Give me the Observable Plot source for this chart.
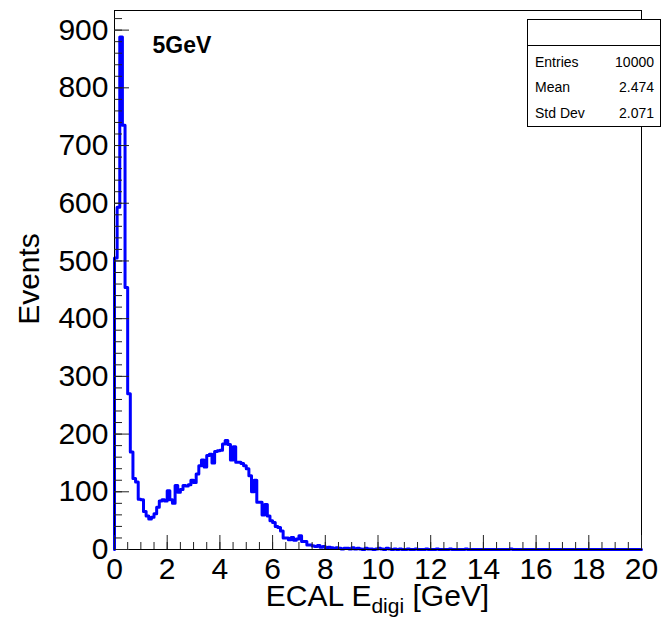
<!DOCTYPE html>
<html>
<head>
<meta charset="utf-8">
<script src="https://cdn.jsdelivr.net/npm/d3@7"></script>
<script src="https://cdn.jsdelivr.net/npm/@observablehq/plot@0.6"></script>
<style>
  body { margin: 0; background: #fff; }
  #wrap { position: relative; width: 662px; height: 618px; overflow: hidden;
          font-family: "Liberation Sans", Arial, Helvetica, sans-serif; }
  #stats { position: absolute; left: 527px; top: 19px; width: 134px; height: 108px;
           border: 1px solid #000; background: #fff; box-sizing: border-box; font-size: 14px; color: #000; }
  #stats .head { height: 26px; border-bottom: 1px solid #000; box-sizing: border-box; }
  #stats .rows { padding-top: 3px; }
  #stats .row { height: 25.5px; display: flex; align-items: center; justify-content: space-between;
                padding: 0 6px 0 7px; }
</style>
</head>
<body>
<div id="wrap"></div>
<script>
// ---- data ----
const xMin = 0;
const xMax = 20;
const binWidth = 0.1;
const counts = [
  505, 593, 888, 735, 454, 270, 169, 123,
  117, 87, 86, 66, 58, 53, 56, 62, 73, 84, 86,
  84, 102, 86, 80, 111, 99, 104, 111, 110, 112, 120, 116,
  131, 145, 155, 143, 163, 165, 150, 170, 171, 172, 183, 189, 182, 155, 178,
  151, 151, 149, 145, 140, 128, 100, 120, 82, 82, 60, 78, 58, 50, 47,
  40, 38, 32, 20, 20, 17, 21, 16, 18, 24, 14, 14, 8, 8, 6, 5, 7, 4, 5, 3,
  4, 3, 2, 3, 2, 1, 2, 2, 1, 3, 1, 2, 1, 0, 2, 1, 1, 0, 1, 2,
  1, 0, 2, 1, 0, 1, 0, 1, 0, 0, 1, 0, 0, 1, 0, 0, 0, 1, 0, 0,
  0, 1, 0, 0, 0, 0, 1, 0, 0, 0, 0, 0, 1, 0, 0, 0, 0, 0, 0, 0,
  0, 0, 0, 0, 0, 0, 0, 0, 0, 1, 0, 0, 0, 0, 0, 0, 0, 0, 0, 0,
  0, 0, 0, 0, 0, 0, 0, 0, 0, 0, 0, 0, 0, 0, 0, 0, 0, 0, 0, 0,
  0, 0, 0, 0, 0, 0, 0, 0, 0, 0, 0, 0, 0, 0, 0, 0, 0, 0, 0, 0
];
const yMax = 934;
const yMajorTicks = [0, 100, 200, 300, 400, 500, 600, 700, 800, 900];
const yMinorTicks = d3.range(0, 940, 20);
const xMajorTicks = [0, 2, 4, 6, 8, 10, 12, 14, 16, 18, 20];
const xMinorTicks = d3.range(0, 20.01, 0.5);
const histTitle = "5GeV";
const yTitle = "Events";
const xTitleMain = "ECAL E";
const xTitleSub = "digi";
const xTitleEnd = " [GeV]";
const statLabels = ["Entries", "Mean", "Std Dev"];
const statValues = ["10000", "2.474", "2.071"];

// ---- build step outline ----
const pts = [{x: xMin, y: 0}];
counts.forEach((c, i) => pts.push({x: xMin + i * binWidth, y: c}));
pts.push({x: xMax, y: counts[counts.length - 1]});
pts.push({x: xMax, y: 0});

const font = "'Liberation Sans', Arial, Helvetica, sans-serif";

const chart = Plot.plot({
  width: 662,
  height: 618,
  marginLeft: 114,
  marginRight: 21,
  marginTop: 10,
  marginBottom: 69,
  x: {domain: [xMin, xMax]},
  y: {domain: [0, yMax]},
  style: {fontFamily: font, background: "transparent", color: "#000"},
  marks: [
    Plot.line(pts, {x: "x", y: "y", curve: "step-after", stroke: "#0000ff", strokeWidth: 3}),
    Plot.frame({stroke: "#000", strokeWidth: 1}),
    Plot.axisY({ticks: yMinorTicks, tickSize: -8, tickFormat: () => "", label: null, stroke: "#222"}),
    Plot.axisY({ticks: yMajorTicks, tickSize: -15, tickPadding: 21, fontSize: 30, label: null, stroke: "#222"}),
    Plot.axisX({ticks: xMinorTicks, tickSize: -7, tickFormat: () => "", label: null, stroke: "#222"}),
    Plot.axisX({ticks: xMajorTicks, tickSize: -14, tickPadding: 22, fontSize: 30, label: null, stroke: "#222"}),
    Plot.text([histTitle], {frameAnchor: "top-left", dx: 38, dy: 26, text: d => d, fontWeight: "bold",
                            fontSize: 23, textAnchor: "start", lineAnchor: "top", fill: "#000"})
  ]
});

const wrap = document.getElementById("wrap");
wrap.appendChild(chart);

// axis titles
const svg = d3.select(chart);
const xs = chart.scale("x");
const xt = svg.append("text")
  .attr("x", xs.apply((xMin + xMax) / 2))
  .attr("y", 606)
  .attr("text-anchor", "middle")
  .attr("font-family", font)
  .attr("font-size", 30)
  .attr("fill", "#000");
xt.append("tspan").text(xTitleMain);
xt.append("tspan").attr("font-size", 21).attr("dy", 7).text(xTitleSub);
xt.append("tspan").attr("dy", -7).text(xTitleEnd);

svg.append("text")
  .attr("transform", "translate(39,279) rotate(-90)")
  .attr("text-anchor", "middle")
  .attr("font-family", font)
  .attr("font-size", 30)
  .attr("fill", "#000")
  .text(yTitle);

// stats box
const box = document.createElement("div");
box.id = "stats";
let html = '<div class="head"></div><div class="rows">';
statLabels.forEach((l, i) => {
  html += `<div class="row"><span>${l}</span><span>${statValues[i]}</span></div>`;
});
html += "</div>";
box.innerHTML = html;
wrap.appendChild(box);
</script>
</body>
</html>
